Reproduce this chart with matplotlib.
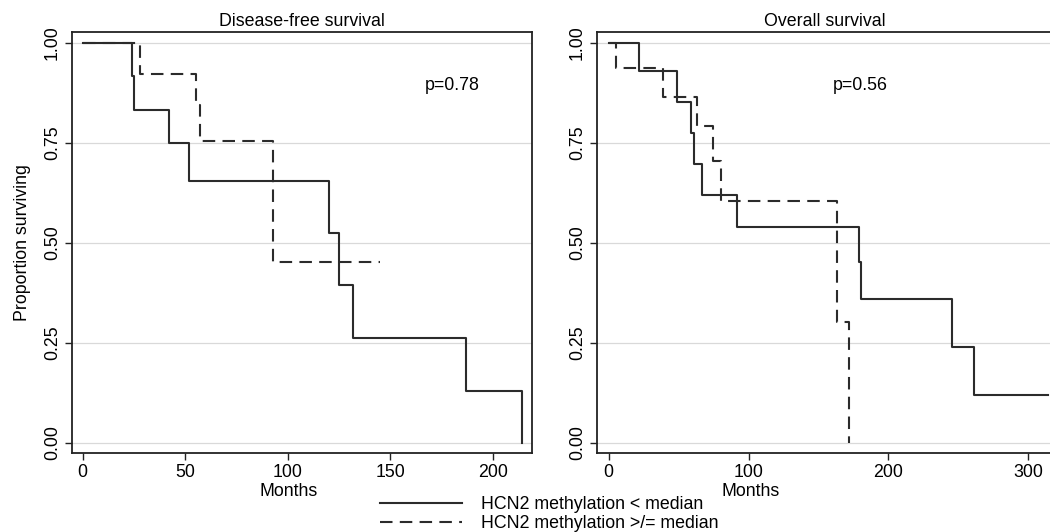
import matplotlib
matplotlib.use('Agg')
import matplotlib.pyplot as plt

plt.rcParams['font.family'] = ['Liberation Sans', 'DejaVu Sans']

# Disease-free survival (months, proportion surviving)
dfs_low_t = [0, 24, 25, 42, 52, 120, 125, 132, 187, 214]
dfs_low_s = [1.0, 0.917, 0.833, 0.75, 0.656, 0.525, 0.394, 0.262, 0.131, 0.0]
dfs_high_t = [0, 28, 55, 57, 93, 145]
dfs_high_s = [1.0, 0.923, 0.846, 0.755, 0.453, 0.453]

# Overall survival
os_low_t = [0, 21.5, 49, 59, 61, 66.5, 92, 179, 180.5, 245.5, 261.5, 314]
os_low_s = [1.0, 0.929, 0.852, 0.775, 0.698, 0.619, 0.541, 0.453, 0.361, 0.241, 0.12, 0.12]
os_high_t = [0, 5, 38.5, 63, 74.5, 80, 163, 172]
os_high_s = [1.0, 0.937, 0.865, 0.793, 0.704, 0.604, 0.303, 0.0]

yticks = [0, 0.25, 0.5, 0.75, 1.0]
ytick_labels = ['0.00', '0.25', '0.50', '0.75', '1.00']
labels = ['HCN2 methylation < median', 'HCN2 methylation >/= median']

fs = 12.8
fig = plt.figure(figsize=(10.5, 5.32), dpi=100)
ax1 = fig.add_axes([72/1050, 1-453/532, 460/1050, 421/532])
ax2 = fig.add_axes([597/1050, 1-453/532, 455/1050, 421/532])

col = '#2b2b2b'
dash = (0, (6, 3.5))


def style(ax, title, xlim, xticks, pval, months_x):
    ax.set_xlim(xlim)
    ax.set_ylim(-0.025, 1.0275)
    ax.set_yticks(yticks)
    ax.set_yticklabels(ytick_labels, rotation=90, va='center')
    ax.set_xticks(xticks)
    ax.grid(axis='y', color='#d9d9d9', lw=0.9)
    ax.set_axisbelow(True)
    ax.tick_params(length=5, width=1, pad=3, labelsize=fs, color='#222')
    for s in ax.spines.values():
        s.set_linewidth(1.3)
        s.set_color('#222')
    ax.set_title(title, fontsize=fs, pad=4)
    ax.set_xlabel('Months', fontsize=fs)
    ax.xaxis.set_label_coords(months_x, -0.072)
    ax.text(180, 0.895, pval, fontsize=fs, ha='center', va='center')


ax1.step(dfs_low_t, dfs_low_s, where='post', color=col, lw=1.5)
ax1.step(dfs_high_t, dfs_high_s, where='post', color=col, lw=1.5, ls=dash)
style(ax1, 'Disease-free survival', (-5.2, 219), [0, 50, 100, 150, 200], 'p=0.78', 0.47)
ax1.set_ylabel('Proportion surviving', fontsize=fs, labelpad=9)

l1, = ax2.step(os_low_t, os_low_s, where='post', color=col, lw=1.5)
l2, = ax2.step(os_high_t, os_high_s, where='post', color=col, lw=1.5, ls=dash)
style(ax2, 'Overall survival', (-8.4, 317), [0, 100, 200, 300], 'p=0.56', 0.338)

fig.legend([l1, l2], labels, loc='upper left', bbox_to_anchor=(380/1050, 1-496/532),
           frameon=False, fontsize=fs, handlelength=4.6, handletextpad=1.1,
           borderpad=0, borderaxespad=0, labelspacing=0.1)

fig.savefig('out.png', dpi=100)
